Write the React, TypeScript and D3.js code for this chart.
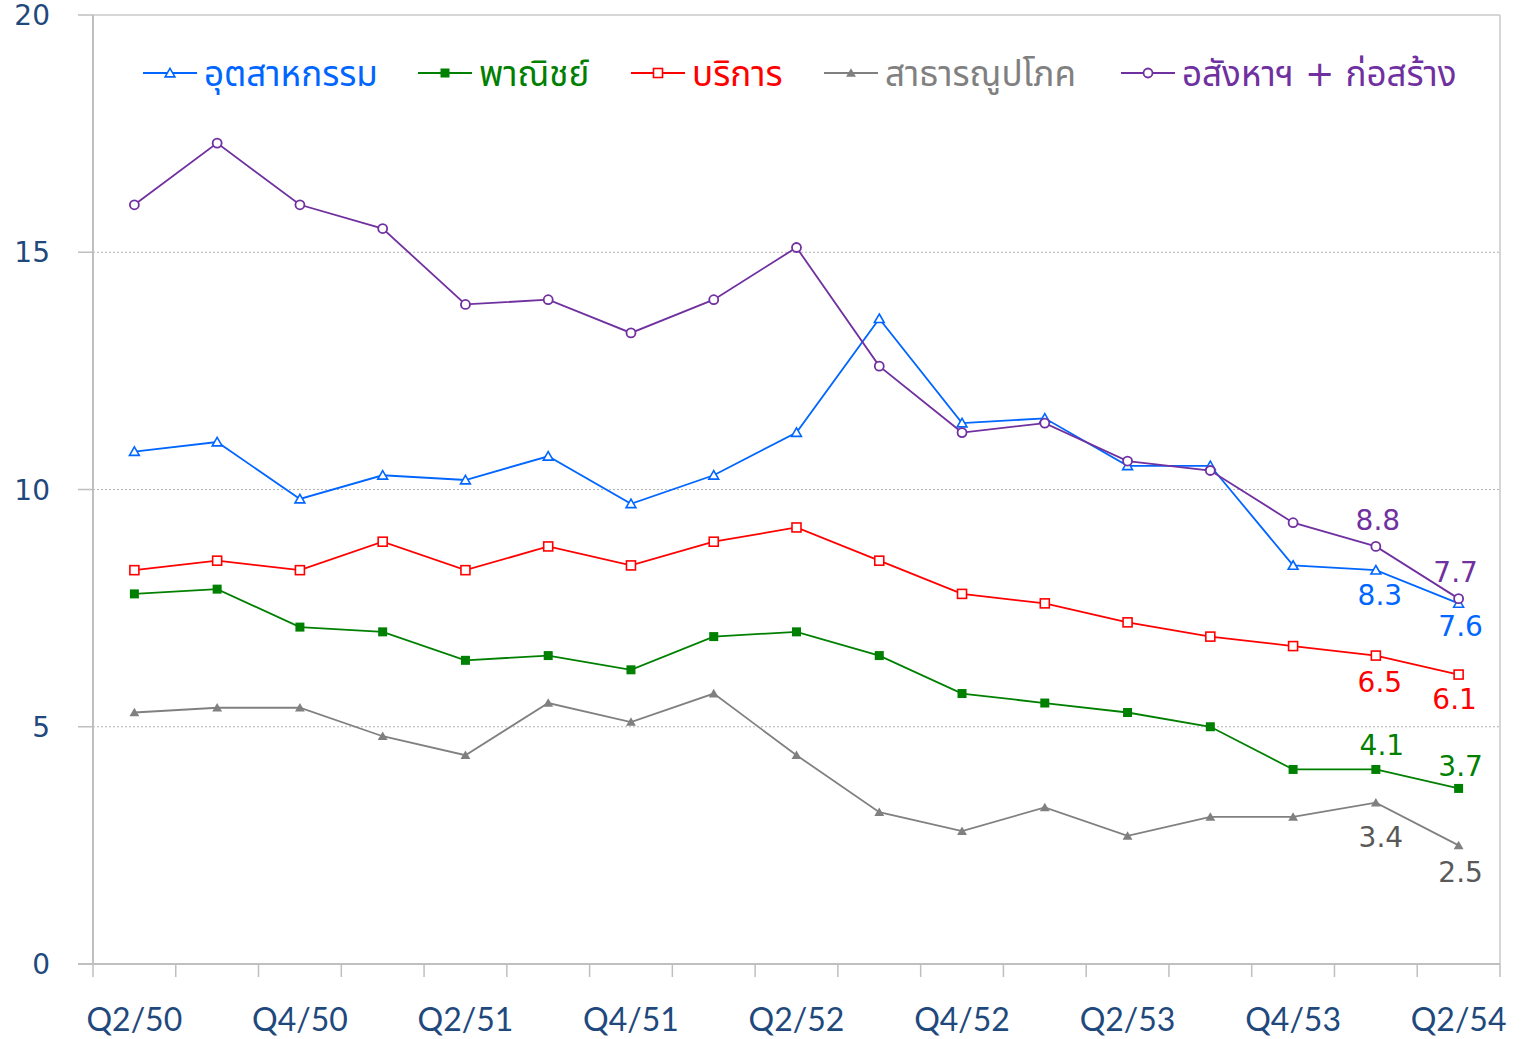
import React from 'react';
import * as d3 from 'd3';

// quarters (Thai Buddhist-era years)
const quarters = [
  'Q2/50', 'Q3/50', 'Q4/50', 'Q1/51', 'Q2/51', 'Q3/51', 'Q4/51', 'Q1/52', 'Q2/52',
  'Q3/52', 'Q4/52', 'Q1/53', 'Q2/53', 'Q3/53', 'Q4/53', 'Q1/54', 'Q2/54',
];
const shownLabels = ['Q2/50', 'Q4/50', 'Q2/51', 'Q4/51', 'Q2/52', 'Q4/52', 'Q2/53', 'Q4/53', 'Q2/54'];
const yTicks = [0, 5, 10, 15, 20];

const industry = [10.8, 11.0, 9.8, 10.3, 10.2, 10.7, 9.7, 10.3, 11.2, 13.6, 11.4, 11.5, 10.5, 10.5, 8.4, 8.3, 7.6];
const commerce = [7.8, 7.9, 7.1, 7.0, 6.4, 6.5, 6.2, 6.9, 7.0, 6.5, 5.7, 5.5, 5.3, 5.0, 4.1, 4.1, 3.7];
const services = [8.3, 8.5, 8.3, 8.9, 8.3, 8.8, 8.4, 8.9, 9.2, 8.5, 7.8, 7.6, 7.2, 6.9, 6.7, 6.5, 6.1];
const utilities = [5.3, 5.4, 5.4, 4.8, 4.4, 5.5, 5.1, 5.7, 4.4, 3.2, 2.8, 3.3, 2.7, 3.1, 3.1, 3.4, 2.5];
const realEstate = [16.0, 17.3, 16.0, 15.5, 13.9, 14.0, 13.3, 14.0, 15.1, 12.6, 11.2, 11.4, 10.6, 10.4, 9.3, 8.8, 7.7];

type Marker = 'triOpen' | 'squareFilled' | 'squareOpen' | 'triFilled' | 'circleOpen';

// label offsets (dx, dy from the point) for the last two values of each series
const series: { name: string; values: number[]; color: string; labelColor: string; marker: Marker; offsets: [number, number][] }[] = [
  { name: 'อุตสาหกรรม', values: industry, color: '#0066ff', labelColor: '#0066ff', marker: 'triOpen', offsets: [[4, 35], [2, 33]] },
  { name: 'พาณิชย์', values: commerce, color: '#008000', labelColor: '#008000', marker: 'squareFilled', offsets: [[6, -14], [2, -12]] },
  { name: 'บริการ', values: services, color: '#ff0000', labelColor: '#ff0000', marker: 'squareOpen', offsets: [[4, 36], [-4, 34]] },
  { name: 'สาธารณูปโภค', values: utilities, color: '#808080', labelColor: '#595959', marker: 'triFilled', offsets: [[5, 44], [2, 37]] },
  { name: 'อสังหาฯ + ก่อสร้าง', values: realEstate, color: '#7030a0', labelColor: '#7030a0', marker: 'circleOpen', offsets: [[2, -16], [-3, -17]] },
];

const legendX = [143, 418, 631, 824, 1121];

const W = 1521;
const H = 1039;
const margin = { top: 15, right: 21, bottom: 75, left: 93 };
const numFont = "'DejaVu Sans', Verdana, sans-serif";
const catFont = "Lato, 'DejaVu Sans', sans-serif";
const thaiFont = "'DejaVu Sans', Tahoma, 'Noto Sans Thai', sans-serif";
const axisText = '#1f497d';

function MarkerShape({ type, x, y, color }: { type: Marker; x: number; y: number; color: string }) {
  if (type === 'circleOpen') return <circle cx={x} cy={y} r={4.5} fill="#fff" stroke={color} strokeWidth={1.8} />;
  if (type === 'squareOpen') return <rect x={x - 4.5} y={y - 4.5} width={9} height={9} fill="#fff" stroke={color} strokeWidth={1.6} />;
  if (type === 'squareFilled') return <rect x={x - 4.5} y={y - 4.5} width={9} height={9} fill={color} />;
  const tri = d3.symbol(d3.symbolTriangle, 42)() as string;
  if (type === 'triFilled') return <path d={tri} transform={`translate(${x},${y + 1})`} fill={color} />;
  return <path d={tri} transform={`translate(${x},${y + 1})`} fill="#fff" stroke={color} strokeWidth={1.6} />;
}

export default function App() {
  const innerW = W - margin.left - margin.right;
  const innerH = H - margin.top - margin.bottom;
  const x0 = margin.left;
  const y0 = margin.top;

  const xBand = d3.scaleBand<string>().domain(quarters).range([x0, x0 + innerW]).padding(0);
  const xc = (q: string) => (xBand(q) as number) + xBand.bandwidth() / 2;
  const y = d3.scaleLinear().domain([0, 20]).range([y0 + innerH, y0]);

  const line = d3.line<number>()
    .x((_, i) => xc(quarters[i]))
    .y(d => y(d));

  const tickXs = quarters.map(q => xBand(q) as number).concat([x0 + innerW]);
  const lastTwo = [quarters.length - 2, quarters.length - 1];

  return (
    <svg width={W} height={H} style={{ position: 'absolute', left: 0, top: 0, background: '#fff' }}>
      {/* grid */}
      {yTicks.filter(t => t > 0 && t < 20).map(t => (
        <line key={t} x1={x0} x2={x0 + innerW} y1={y(t)} y2={y(t)} stroke="#b3b3b3" strokeWidth={1} strokeDasharray="2,2" />
      ))}
      <line x1={x0} x2={x0 + innerW} y1={y(20)} y2={y(20)} stroke="#c8c8c8" strokeWidth={1.5} />
      <line x1={x0 + innerW} x2={x0 + innerW} y1={y(20)} y2={y(0)} stroke="#c8c8c8" strokeWidth={1.5} />

      {/* axes */}
      <line x1={x0} x2={x0} y1={y(20)} y2={y(0)} stroke="#bfbfbf" strokeWidth={2} />
      <line x1={x0 - 15} x2={x0 + innerW} y1={y(0)} y2={y(0)} stroke="#bfbfbf" strokeWidth={2} />
      {yTicks.map(t => (
        <g key={t}>
          <line x1={x0 - 15} x2={x0} y1={y(t)} y2={y(t)} stroke="#bfbfbf" strokeWidth={1.5} />
          <text x={50} y={y(t)} dy="0.36em" textAnchor="end" fontFamily={numFont} fontSize={28} fill={axisText}>{t}</text>
        </g>
      ))}
      {tickXs.map((tx, i) => (
        <line key={i} x1={tx} x2={tx} y1={y(0)} y2={y(0) + 13} stroke="#bfbfbf" strokeWidth={1.5} />
      ))}
      {shownLabels.map(q => (
        <text key={q} x={xc(q)} y={1031} textAnchor="middle" fontFamily={catFont} fontSize={32} fill={axisText}>{q}</text>
      ))}

      {/* series */}
      {series.map(s => (
        <g key={s.name}>
          <path d={line(s.values) as string} fill="none" stroke={s.color} strokeWidth={1.8} />
          {s.values.map((v, i) => (
            <MarkerShape key={i} type={s.marker} x={xc(quarters[i])} y={y(v)} color={s.color} />
          ))}
          {lastTwo.map((idx, k) => (
            <text key={idx} x={xc(quarters[idx]) + s.offsets[k][0]} y={y(s.values[idx]) + s.offsets[k][1]}
              textAnchor="middle" fontFamily={numFont} fontSize={28} fill={s.labelColor}>
              {s.values[idx].toFixed(1)}
            </text>
          ))}
        </g>
      ))}

      {/* legend */}
      {series.map((s, i) => (
        <g key={s.name} transform={`translate(${legendX[i]},73)`}>
          <line x1={0} x2={54} y1={0} y2={0} stroke={s.color} strokeWidth={1.8} />
          <MarkerShape type={s.marker} x={27} y={0} color={s.color} />
          <text x={61} y={0} dy="0.36em" fontFamily={thaiFont} fontSize={35} fill={s.color}>{s.name}</text>
        </g>
      ))}
    </svg>
  );
}
